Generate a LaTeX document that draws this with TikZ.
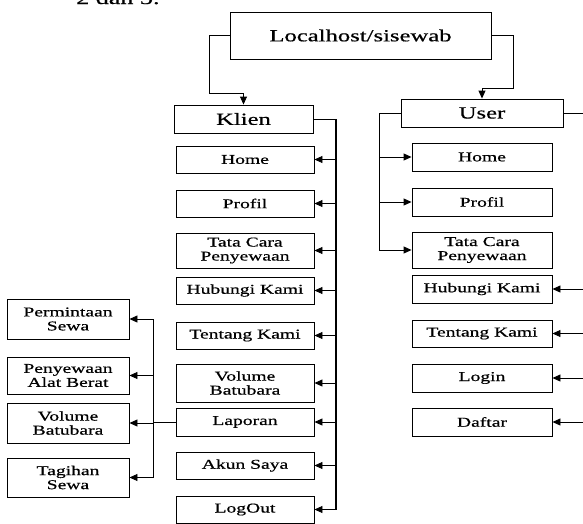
\documentclass[tikz,border=0pt]{standalone}
\usepackage{fontspec}
\setmainfont{Liberation Serif}[FakeStretch=1.45, FakeBold=0.6]
\usetikzlibrary{arrows.meta,positioning}

\begin{document}
\begin{tikzpicture}[
      x=1pt, y=-1pt,
      menu/.style={draw, line width=0.9pt, align=center, inner sep=0pt,
                   font=\fontsize{17}{18}\selectfont},
      item/.style={draw, line width=0.9pt, align=center, inner sep=0pt,
                   minimum height=27pt, font=\fontsize{13.5}{14}\selectfont},
      kitem/.style={item, minimum width=138pt},
      uitem/.style={item, minimum width=140pt},
      litem/.style={item, minimum width=122pt},
      link/.style={line width=0.9pt},
      arrow/.style={-{Triangle[length=8pt, width=7pt]}, line width=0.9pt}
    ]
    \useasboundingbox (0,0) rectangle (583,523);
    \clip (0,0) rectangle (583,523);
    \node[anchor=base west, inner sep=0pt, font=\fontsize{18}{20}\selectfont] (caption) at (76,4) {2 dan 3.};
    \node[menu, minimum width=261pt, minimum height=47pt] (host) at (360.5,35.5) {Localhost/sisewab};
    \node[menu, minimum width=139pt, minimum height=28pt] (klien) at (243.5,119) {Klien};
    \node[menu, minimum width=162pt, minimum height=28pt] (user) at (482,113) {User};
    % menu klien
    \node[kitem] (kHome) at (245,159.5) {Home};
    \node[kitem] (kProfil) at (245,203.5) {Profil};
    \node[kitem, minimum height=35pt] (kTata) at (245,250.5) {Tata Cara\\Penyewaan};
    \node[kitem] (kHubungi) at (245,290.5) {Hubungi Kami};
    \node[kitem] (kTentang) at (245,335.5) {Tentang Kami};
    \node[kitem, minimum height=38pt] (kVolume) at (245,383) {Volume\\Batubara};
    \node[kitem, minimum height=28pt] (kLaporan) at (245,422) {Laporan};
    \node[kitem] (kAkun) at (245,465.5) {Akun Saya};
    \node[kitem] (kLogout) at (245,509.5) {LogOut};
    % sub menu laporan
    \node[litem, minimum height=40pt] (lPermintaan) at (68,319) {Permintaan\\Sewa};
    \node[litem, minimum height=37pt] (lPenyewaan) at (68,375.5) {Penyewaan\\Alat Berat};
    \node[litem, minimum height=40pt] (lVolume) at (68,423) {Volume\\Batubara};
    \node[litem, minimum height=39pt] (lTagihan) at (68,477.5) {Tagihan\\Sewa};
    % menu user
    \node[uitem, minimum height=28pt] (uHome) at (482,157) {Home};
    \node[uitem, minimum height=28pt] (uProfil) at (482,202) {Profil};
    \node[uitem, minimum height=36pt] (uTata) at (482,250) {Tata Cara\\Penyewaan};
    \node[uitem, minimum height=28pt] (uHubungi) at (482,289) {Hubungi Kami};
    \node[uitem] (uTentang) at (482,333.5) {Tentang Kami};
    \node[uitem, minimum height=28pt] (uLogin) at (482,378) {Login};
    \node[uitem, minimum height=28pt] (uDaftar) at (482,422) {Daftar};

    \coordinate (hl) at (209,93);
    \coordinate (hr) at (513,88);
    \coordinate (kb) at (336,119);
    \coordinate (lb) at (153,422);
    \coordinate (ub) at (379,113);
    \coordinate (ur) at (592,113);
    \draw[arrow] (host.west) -| (hl) -| (klien.north);
    \draw[arrow] (host.east) -| (hr) -| (user.north);
    \draw[link] (klien.east) -- (kb);
    \draw[line width=1.6pt] (kb) -- (kb |- kLogout);
    \foreach \n in {kHome,kProfil,kTata,kHubungi,kTentang,kVolume,kLaporan,kAkun,kLogout}
      \draw[arrow] (kb) |- (\n.east);
    \draw[link] (kLaporan.west) -- (lb);
    \foreach \n in {lPermintaan,lPenyewaan,lVolume,lTagihan}
      \draw[arrow] (lb) |- (\n.east);
    \draw[link] (user.west) -- (ub);
    \foreach \n in {uHome,uProfil,uTata}
      \draw[arrow] (ub) |- (\n.west);
    \draw[link] (user.east) -- (ur);
    \foreach \n in {uHubungi,uTentang,uLogin,uDaftar}
      \draw[arrow] (ur) |- (\n.east);
  \end{tikzpicture}
\end{document}
